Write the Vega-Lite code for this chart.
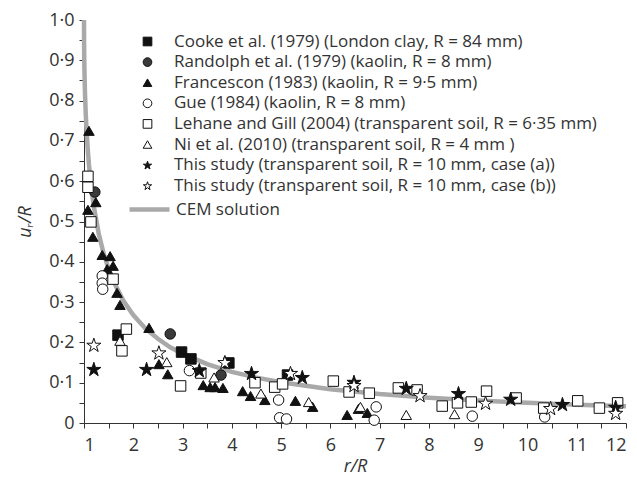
{
  "$schema": "https://vega.github.io/schema/vega-lite/v6.json",
  "width": 542,
  "height": 403,
  "autosize": {"type": "none"},
  "padding": {"left": 84, "top": 20, "right": 11, "bottom": 63},
  "background": "white",
  "config": {
    "view": {"stroke": null},
    "font": "Open Sans",
    "axis": {
      "domainColor": "#333",
      "tickColor": "#333",
      "tickSize": 5,
      "labelFont": "Open Sans",
      "labelFontSize": 18,
      "labelColor": "#333",
      "titleFont": "Open Sans",
      "titleFontSize": 18,
      "titleFontStyle": "italic",
      "titleFontWeight": "normal",
      "titleColor": "#333",
      "grid": false
    },
    "legend": {
      "labelFont": "Open Sans",
      "labelFontSize": 17,
      "labelColor": "#333",
      "labelLimit": 0,
      "padding": 0,
      "title": null
    }
  },
  "datasets": {
    "cem": [
      {"x": 1.0, "y": 1.0}, {"x": 1.002, "y": 0.939}, {"x": 1.005, "y": 0.905}, {"x": 1.01, "y": 0.868},
      {"x": 1.02, "y": 0.819}, {"x": 1.035, "y": 0.768}, {"x": 1.05, "y": 0.730}, {"x": 1.075, "y": 0.681},
      {"x": 1.1, "y": 0.642}, {"x": 1.15, "y": 0.582}, {"x": 1.2, "y": 0.537}, {"x": 1.3, "y": 0.469},
      {"x": 1.4, "y": 0.420}, {"x": 1.5, "y": 0.382}, {"x": 1.6, "y": 0.351}, {"x": 1.8, "y": 0.303},
      {"x": 2.0, "y": 0.268}, {"x": 2.25, "y": 0.234}, {"x": 2.5, "y": 0.209}, {"x": 2.75, "y": 0.188},
      {"x": 3.0, "y": 0.172}, {"x": 3.5, "y": 0.146}, {"x": 4.0, "y": 0.127}, {"x": 4.5, "y": 0.1125},
      {"x": 5.0, "y": 0.101}, {"x": 6.0, "y": 0.0839}, {"x": 7.0, "y": 0.0718}, {"x": 8.0, "y": 0.0627},
      {"x": 9.0, "y": 0.0557}, {"x": 10.0, "y": 0.0501}, {"x": 11.0, "y": 0.0455}, {"x": 12.0, "y": 0.0418}
    ],
    "pts": [
      {"s": "Cooke et al. (1979) (London clay, R = 84 mm)", "x": 1.69, "y": 0.218},
      {"s": "Cooke et al. (1979) (London clay, R = 84 mm)", "x": 2.98, "y": 0.176},
      {"s": "Cooke et al. (1979) (London clay, R = 84 mm)", "x": 3.17, "y": 0.159},
      {"s": "Cooke et al. (1979) (London clay, R = 84 mm)", "x": 3.94, "y": 0.149},
      {"s": "Cooke et al. (1979) (London clay, R = 84 mm)", "x": 5.13, "y": 0.119},
      {"s": "Randolph et al. (1979) (kaolin, R = 8 mm)", "x": 1.22, "y": 0.573},
      {"s": "Randolph et al. (1979) (kaolin, R = 8 mm)", "x": 2.75, "y": 0.221},
      {"s": "Randolph et al. (1979) (kaolin, R = 8 mm)", "x": 3.78, "y": 0.119},
      {"s": "Francescon (1983) (kaolin, R = 9·5 mm)", "x": 1.10, "y": 0.725},
      {"s": "Francescon (1983) (kaolin, R = 9·5 mm)", "x": 1.08, "y": 0.529},
      {"s": "Francescon (1983) (kaolin, R = 9·5 mm)", "x": 1.24, "y": 0.548},
      {"s": "Francescon (1983) (kaolin, R = 9·5 mm)", "x": 1.18, "y": 0.462},
      {"s": "Francescon (1983) (kaolin, R = 9·5 mm)", "x": 1.37, "y": 0.417},
      {"s": "Francescon (1983) (kaolin, R = 9·5 mm)", "x": 1.53, "y": 0.414},
      {"s": "Francescon (1983) (kaolin, R = 9·5 mm)", "x": 1.47, "y": 0.382},
      {"s": "Francescon (1983) (kaolin, R = 9·5 mm)", "x": 1.59, "y": 0.390},
      {"s": "Francescon (1983) (kaolin, R = 9·5 mm)", "x": 1.67, "y": 0.323},
      {"s": "Francescon (1983) (kaolin, R = 9·5 mm)", "x": 1.73, "y": 0.293},
      {"s": "Francescon (1983) (kaolin, R = 9·5 mm)", "x": 2.32, "y": 0.236},
      {"s": "Francescon (1983) (kaolin, R = 9·5 mm)", "x": 2.52, "y": 0.146},
      {"s": "Francescon (1983) (kaolin, R = 9·5 mm)", "x": 2.70, "y": 0.121},
      {"s": "Francescon (1983) (kaolin, R = 9·5 mm)", "x": 3.42, "y": 0.094},
      {"s": "Francescon (1983) (kaolin, R = 9·5 mm)", "x": 3.56, "y": 0.089},
      {"s": "Francescon (1983) (kaolin, R = 9·5 mm)", "x": 3.66, "y": 0.089},
      {"s": "Francescon (1983) (kaolin, R = 9·5 mm)", "x": 3.82, "y": 0.087},
      {"s": "Francescon (1983) (kaolin, R = 9·5 mm)", "x": 4.22, "y": 0.079},
      {"s": "Francescon (1983) (kaolin, R = 9·5 mm)", "x": 4.38, "y": 0.067},
      {"s": "Francescon (1983) (kaolin, R = 9·5 mm)", "x": 4.67, "y": 0.057},
      {"s": "Francescon (1983) (kaolin, R = 9·5 mm)", "x": 5.29, "y": 0.055},
      {"s": "Francescon (1983) (kaolin, R = 9·5 mm)", "x": 5.64, "y": 0.040},
      {"s": "Francescon (1983) (kaolin, R = 9·5 mm)", "x": 6.34, "y": 0.020},
      {"s": "Francescon (1983) (kaolin, R = 9·5 mm)", "x": 6.57, "y": 0.035},
      {"s": "Francescon (1983) (kaolin, R = 9·5 mm)", "x": 6.75, "y": 0.025},
      {"s": "Gue (1984) (kaolin, R = 8 mm)", "x": 1.37, "y": 0.365},
      {"s": "Gue (1984) (kaolin, R = 8 mm)", "x": 1.37, "y": 0.347},
      {"s": "Gue (1984) (kaolin, R = 8 mm)", "x": 1.38, "y": 0.332},
      {"s": "Gue (1984) (kaolin, R = 8 mm)", "x": 3.14, "y": 0.130},
      {"s": "Gue (1984) (kaolin, R = 8 mm)", "x": 4.95, "y": 0.057},
      {"s": "Gue (1984) (kaolin, R = 8 mm)", "x": 4.97, "y": 0.013},
      {"s": "Gue (1984) (kaolin, R = 8 mm)", "x": 5.11, "y": 0.010},
      {"s": "Gue (1984) (kaolin, R = 8 mm)", "x": 6.93, "y": 0.040},
      {"s": "Gue (1984) (kaolin, R = 8 mm)", "x": 6.89, "y": 0.007},
      {"s": "Gue (1984) (kaolin, R = 8 mm)", "x": 8.88, "y": 0.017},
      {"s": "Gue (1984) (kaolin, R = 8 mm)", "x": 10.35, "y": 0.015},
      {"s": "Lehane and Gill (2004) (transparent soil, R = 6·35 mm)", "x": 1.08, "y": 0.612},
      {"s": "Lehane and Gill (2004) (transparent soil, R = 6·35 mm)", "x": 1.08, "y": 0.585},
      {"s": "Lehane and Gill (2004) (transparent soil, R = 6·35 mm)", "x": 1.14, "y": 0.499},
      {"s": "Lehane and Gill (2004) (transparent soil, R = 6·35 mm)", "x": 1.59, "y": 0.357},
      {"s": "Lehane and Gill (2004) (transparent soil, R = 6·35 mm)", "x": 1.86, "y": 0.233},
      {"s": "Lehane and Gill (2004) (transparent soil, R = 6·35 mm)", "x": 1.77, "y": 0.179},
      {"s": "Lehane and Gill (2004) (transparent soil, R = 6·35 mm)", "x": 2.96, "y": 0.092},
      {"s": "Lehane and Gill (2004) (transparent soil, R = 6·35 mm)", "x": 3.37, "y": 0.124},
      {"s": "Lehane and Gill (2004) (transparent soil, R = 6·35 mm)", "x": 4.47, "y": 0.100},
      {"s": "Lehane and Gill (2004) (transparent soil, R = 6·35 mm)", "x": 4.87, "y": 0.089},
      {"s": "Lehane and Gill (2004) (transparent soil, R = 6·35 mm)", "x": 5.03, "y": 0.097},
      {"s": "Lehane and Gill (2004) (transparent soil, R = 6·35 mm)", "x": 6.06, "y": 0.104},
      {"s": "Lehane and Gill (2004) (transparent soil, R = 6·35 mm)", "x": 6.38, "y": 0.077},
      {"s": "Lehane and Gill (2004) (transparent soil, R = 6·35 mm)", "x": 6.79, "y": 0.074},
      {"s": "Lehane and Gill (2004) (transparent soil, R = 6·35 mm)", "x": 7.38, "y": 0.087},
      {"s": "Lehane and Gill (2004) (transparent soil, R = 6·35 mm)", "x": 7.76, "y": 0.082},
      {"s": "Lehane and Gill (2004) (transparent soil, R = 6·35 mm)", "x": 8.27, "y": 0.042},
      {"s": "Lehane and Gill (2004) (transparent soil, R = 6·35 mm)", "x": 8.58, "y": 0.050},
      {"s": "Lehane and Gill (2004) (transparent soil, R = 6·35 mm)", "x": 8.86, "y": 0.052},
      {"s": "Lehane and Gill (2004) (transparent soil, R = 6·35 mm)", "x": 9.17, "y": 0.079},
      {"s": "Lehane and Gill (2004) (transparent soil, R = 6·35 mm)", "x": 9.77, "y": 0.062},
      {"s": "Lehane and Gill (2004) (transparent soil, R = 6·35 mm)", "x": 10.33, "y": 0.037},
      {"s": "Lehane and Gill (2004) (transparent soil, R = 6·35 mm)", "x": 11.02, "y": 0.055},
      {"s": "Lehane and Gill (2004) (transparent soil, R = 6·35 mm)", "x": 11.46, "y": 0.037},
      {"s": "Lehane and Gill (2004) (transparent soil, R = 6·35 mm)", "x": 11.83, "y": 0.050},
      {"s": "Ni et al. (2010) (transparent soil, R = 4 mm )", "x": 1.73, "y": 0.204},
      {"s": "Ni et al. (2010) (transparent soil, R = 4 mm )", "x": 2.68, "y": 0.151},
      {"s": "Ni et al. (2010) (transparent soil, R = 4 mm )", "x": 3.64, "y": 0.113},
      {"s": "Ni et al. (2010) (transparent soil, R = 4 mm )", "x": 4.59, "y": 0.073},
      {"s": "Ni et al. (2010) (transparent soil, R = 4 mm )", "x": 5.56, "y": 0.052},
      {"s": "Ni et al. (2010) (transparent soil, R = 4 mm )", "x": 6.61, "y": 0.040},
      {"s": "Ni et al. (2010) (transparent soil, R = 4 mm )", "x": 7.54, "y": 0.020},
      {"s": "Ni et al. (2010) (transparent soil, R = 4 mm )", "x": 8.52, "y": 0.022},
      {"s": "This study (transparent soil, R = 10 mm, case (a))", "x": 1.20, "y": 0.134},
      {"s": "This study (transparent soil, R = 10 mm, case (a))", "x": 2.27, "y": 0.134},
      {"s": "This study (transparent soil, R = 10 mm, case (a))", "x": 3.34, "y": 0.131},
      {"s": "This study (transparent soil, R = 10 mm, case (a))", "x": 4.40, "y": 0.124},
      {"s": "This study (transparent soil, R = 10 mm, case (a))", "x": 5.43, "y": 0.114},
      {"s": "This study (transparent soil, R = 10 mm, case (a))", "x": 6.48, "y": 0.102},
      {"s": "This study (transparent soil, R = 10 mm, case (a))", "x": 7.54, "y": 0.087},
      {"s": "This study (transparent soil, R = 10 mm, case (a))", "x": 8.60, "y": 0.074},
      {"s": "This study (transparent soil, R = 10 mm, case (a))", "x": 9.66, "y": 0.060},
      {"s": "This study (transparent soil, R = 10 mm, case (a))", "x": 10.71, "y": 0.047},
      {"s": "This study (transparent soil, R = 10 mm, case (a))", "x": 11.79, "y": 0.040},
      {"s": "This study (transparent soil, R = 10 mm, case (b))", "x": 1.20, "y": 0.194},
      {"s": "This study (transparent soil, R = 10 mm, case (b))", "x": 2.52, "y": 0.175},
      {"s": "This study (transparent soil, R = 10 mm, case (b))", "x": 3.86, "y": 0.151},
      {"s": "This study (transparent soil, R = 10 mm, case (b))", "x": 5.19, "y": 0.124},
      {"s": "This study (transparent soil, R = 10 mm, case (b))", "x": 6.48, "y": 0.094},
      {"s": "This study (transparent soil, R = 10 mm, case (b))", "x": 7.82, "y": 0.069},
      {"s": "This study (transparent soil, R = 10 mm, case (b))", "x": 9.15, "y": 0.050},
      {"s": "This study (transparent soil, R = 10 mm, case (b))", "x": 10.47, "y": 0.037},
      {"s": "This study (transparent soil, R = 10 mm, case (b))", "x": 11.79, "y": 0.025}
    ]
  },
  "encoding": {
    "x": {
      "field": "x", "type": "quantitative",
      "scale": {"domain": [1, 12], "nice": false, "zero": false},
      "axis": {
        "title": "r/R",
        "values": [1, 1.5, 2, 2.5, 3, 3.5, 4, 4.5, 5, 5.5, 6, 6.5, 7, 7.5, 8, 8.5, 9, 9.5, 10, 10.5, 11, 11.5, 12],
        "labelExpr": "datum.value % 1 === 0 ? format(datum.value, 'd') : ''",
        "labelPadding": 8,
        "titlePadding": 3
      }
    },
    "y": {
      "field": "y", "type": "quantitative",
      "scale": {"domain": [0, 1], "nice": false},
      "axis": {
        "title": "uᵣ/R",
        "values": [0, 0.05, 0.1, 0.15, 0.2, 0.25, 0.3, 0.35, 0.4, 0.45, 0.5, 0.55, 0.6, 0.65, 0.7, 0.75, 0.8, 0.85, 0.9, 0.95, 1],
        "labelExpr": "round(datum.value * 20) % 2 === 0 ? (datum.value === 0 ? '0' : replace(format(datum.value, '.1f'), '.', '·')) : ''",
        "labelPadding": 5,
        "titlePadding": 14
      }
    }
  },
  "layer": [
    {
      "data": {"name": "cem"},
      "mark": {"type": "line", "strokeWidth": 4.5},
      "encoding": {
        "color": {
          "datum": "CEM solution", "type": "nominal",
          "scale": {"range": ["#a9a9a9"]},
          "legend": {
            "orient": "none",
            "legendX": 43,
            "legendY": 167,
            "symbolType": "stroke",
            "symbolSize": 1600,
            "symbolStrokeWidth": 4.5,
            "labelOffset": 4
          }
        }
      }
    },
    {
      "data": {"name": "pts"},
      "transform": [{"filter": "indexof(datum.s, 'This study') < 0"}],
      "mark": {"type": "point", "filled": true, "strokeWidth": 1, "opacity": 1, "size": 110},
      "encoding": {
        "shape": {
          "field": "s", "type": "nominal",
          "scale": {
            "domain": [
              "Cooke et al. (1979) (London clay, R = 84 mm)",
              "Randolph et al. (1979) (kaolin, R = 8 mm)",
              "Francescon (1983) (kaolin, R = 9·5 mm)",
              "Gue (1984) (kaolin, R = 8 mm)",
              "Lehane and Gill (2004) (transparent soil, R = 6·35 mm)",
              "Ni et al. (2010) (transparent soil, R = 4 mm )",
              "This study (transparent soil, R = 10 mm, case (a))",
              "This study (transparent soil, R = 10 mm, case (b))"
            ],
            "range": ["square", "circle", "triangle-up", "circle", "square", "triangle-up",
              "M0,-0.905L0.225,-0.214L0.951,-0.214L0.363,0.213L0.588,0.904L0,0.477L-0.588,0.904L-0.363,0.213L-0.951,-0.214L-0.225,-0.214Z",
              "M0,-0.905L0.225,-0.214L0.951,-0.214L0.363,0.213L0.588,0.904L0,0.477L-0.588,0.904L-0.363,0.213L-0.951,-0.214L-0.225,-0.214Z"]
          },
          "legend": {
            "orient": "none",
            "legendX": 55,
            "legendY": 13,
            "labelOffset": 18,
            "rowPadding": 2.6,
            "symbolSize": 75,
            "symbolStrokeWidth": 1
          }
        },
        "fill": {
          "field": "s", "type": "nominal",
          "scale": {
            "domain": [
              "Cooke et al. (1979) (London clay, R = 84 mm)",
              "Randolph et al. (1979) (kaolin, R = 8 mm)",
              "Francescon (1983) (kaolin, R = 9·5 mm)",
              "Gue (1984) (kaolin, R = 8 mm)",
              "Lehane and Gill (2004) (transparent soil, R = 6·35 mm)",
              "Ni et al. (2010) (transparent soil, R = 4 mm )",
              "This study (transparent soil, R = 10 mm, case (a))",
              "This study (transparent soil, R = 10 mm, case (b))"
            ],
            "range": ["#111", "#3a3a3a", "#111", "white", "white", "white", "#111", "white"]
          }
        },
        "stroke": {
          "field": "s", "type": "nominal",
          "scale": {
            "domain": [
              "Cooke et al. (1979) (London clay, R = 84 mm)",
              "Randolph et al. (1979) (kaolin, R = 8 mm)",
              "Francescon (1983) (kaolin, R = 9·5 mm)",
              "Gue (1984) (kaolin, R = 8 mm)",
              "Lehane and Gill (2004) (transparent soil, R = 6·35 mm)",
              "Ni et al. (2010) (transparent soil, R = 4 mm )",
              "This study (transparent soil, R = 10 mm, case (a))",
              "This study (transparent soil, R = 10 mm, case (b))"
            ],
            "range": ["#111", "#111", "#111", "#111", "#111", "#111", "#111", "#111"]
          }
        }
      }
    },
    {
      "data": {"name": "pts"},
      "transform": [{"filter": "indexof(datum.s, 'This study') >= 0"}],
      "mark": {"type": "point", "filled": true, "strokeWidth": 1, "opacity": 1, "size": 220},
      "encoding": {
        "shape": {"field": "s", "type": "nominal"},
        "fill": {"field": "s", "type": "nominal"},
        "stroke": {"field": "s", "type": "nominal"}
      }
    }
  ]
}
